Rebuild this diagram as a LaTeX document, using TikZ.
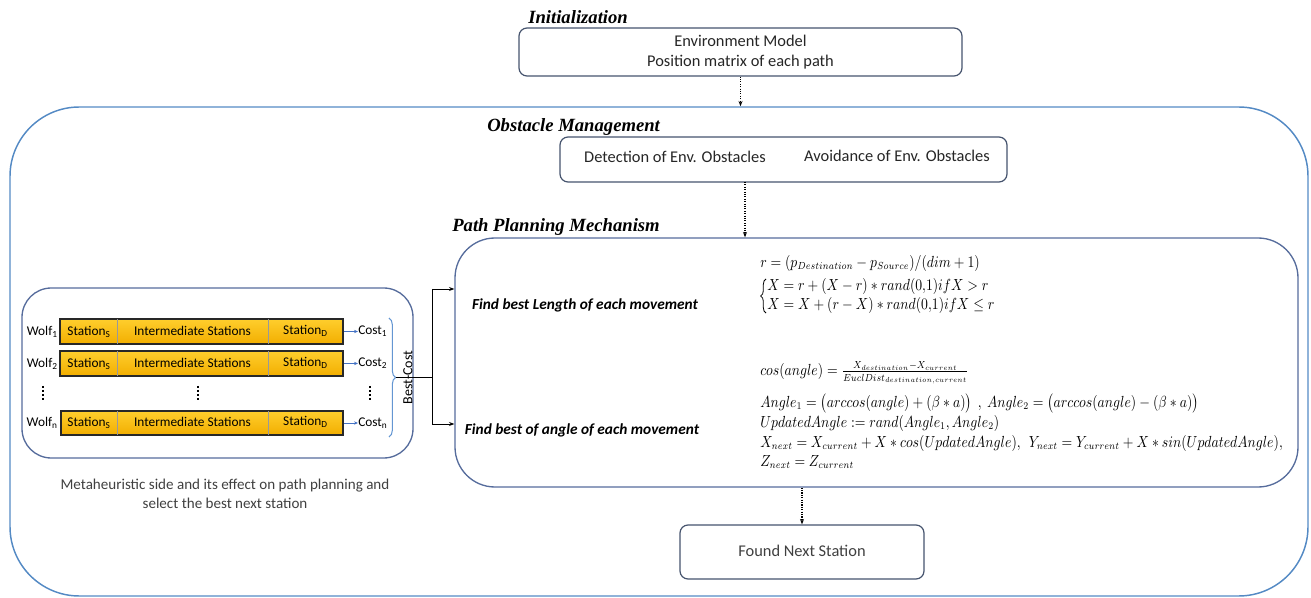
\documentclass[tikz,border=0pt]{standalone}
\usepackage{amsmath}
\usepackage{graphicx}
\usepackage[no-math]{fontspec}
\setmainfont{Carlito}
\newfontfamily\headfont{Liberation Serif}
\usetikzlibrary{fit,arrows.meta,decorations.pathreplacing,shadows}

\definecolor{outerblue}{RGB}{84,138,196}
\definecolor{panelblue}{RGB}{86,108,156}
\definecolor{boxgray}{RGB}{70,84,110}
\definecolor{barlight}{RGB}{255,206,45}
\definecolor{bardark}{RGB}{242,174,0}
\definecolor{bracecol}{RGB}{100,150,210}
\definecolor{arrowblue}{RGB}{68,114,196}
\definecolor{textgray}{RGB}{64,64,64}

% formulas are set slightly condensed and tall
\newcommand{\eqline}[1]{\scalebox{0.94}[1.1]{#1}}

\begin{document}
\begin{tikzpicture}[x=0.75pt,y=-0.75pt,
  outerbox/.style={draw=outerblue,line width=1.1pt,rounded corners=52pt,inner sep=0pt},
  panel/.style={draw=panelblue,line width=1pt,inner sep=0pt},
  plainbox/.style={draw=boxgray,line width=0.9pt,rounded corners=6pt,inner sep=0pt,fill=white},
  heading/.style={font=\headfont\bfseries\itshape\fontsize{14}{16}\selectfont,inner sep=0pt,anchor=west},
  boxtext/.style={font=\fontsize{12.3}{14}\selectfont,inner sep=0pt,text=black!85},
  bar/.style={draw={rgb,255:red,40;green,40;blue,40},line width=1.3pt,top color=barlight,bottom color=bardark,
    inner sep=0pt,drop shadow={shadow xshift=1pt,shadow yshift=-1pt,fill=black!45}},
  bartext/.style={font=\fontsize{10}{11}\selectfont,inner sep=0pt},
  divider/.style={draw=black!40,line width=0.5pt},
  wolftext/.style={font=\fontsize{10}{11}\selectfont,inner sep=0pt},
  costarrow/.style={draw=arrowblue,line width=0.6pt,-{Stealth[length=3pt,width=2.5pt]}},
  flowarrow/.style={densely dotted,line width=0.8pt,-{Stealth[length=4pt,width=3pt]}},
  linkarrow/.style={line width=0.7pt,-{Stealth[length=4pt,width=3pt]}},
  findtext/.style={font=\bfseries\itshape\fontsize{11.5}{13}\selectfont,inner sep=0pt},
  formula/.style={anchor=west,inner sep=0pt,font=\fontsize{10.5}{12}\selectfont,text=black},
  dots/.style={line width=1.1pt,dash pattern=on 1.4pt off 1.6pt}
]
\useasboundingbox (0,0) rectangle (1311,598);

% frame of the whole procedure
\node[outerbox,fit={(10,107)(1308,596)}] (outer) {};

% initialization
\node[heading] (inith) at (528,17) {Initialization};
\node[plainbox,fit={(519,28)(962,76)}] (env) {};
\node[boxtext] (envA) at (740.5,41) {Environment Model};
\node[boxtext] (envB) at (740.5,62) {Position matrix of each path};
\draw[flowarrow] (env.south) -- (env.south |- outer.north);

% obstacle management
\node[heading] (obsh) at (487,127) {Obstacle Management};
\node[plainbox,fit={(560,137)(1007,182)}] (obs) {};
\node[boxtext] (obsA) at (675,157) {Detection of Env. Obstacles};
\node[boxtext] (obsB) at (897,156) {Avoidance of Env. Obstacles};

% path planning
\node[heading] (pph) at (452,227) {Path Planning Mechanism};
\node[panel,rounded corners=30pt,fit={(455,238)(1298,487)}] (pp) {};
\coordinate (obsdrop) at (745,182);
\draw[flowarrow] (obsdrop) -- (obsdrop |- pp.north);

\node[findtext] (findL) at (585,305) {Find best Length of each movement};
\node[findtext] (findA) at (582,430) {Find best of angle of each movement};

% step length
\node[formula] (f1) at (760,263) {\eqline{$r=(p_{Destination}-p_{Source})/(dim+1)$}};
\draw[line width=0.6pt,decorate,decoration={brace,amplitude=4pt}] (766,313) -- (766,279);
\node[formula] (f2a) at (767,286.5) {\eqline{$X=r+(X-r)\ast rand(0{,}1)ifX>r$}};
\node[formula] (f2b) at (767,305) {\eqline{$X=X+(r-X)\ast rand(0{,}1)ifX\le r$}};

% direction of the move
\node[formula] (f3) at (760,373) {\eqline{$cos(angle)=\frac{X_{destination}-X_{current}}{EuclDist_{destination,current}}$}};
\node[formula] (f4) at (760,403) {\eqline{$Angle_1=\bigl(arccos(angle)+(\beta\ast a)\bigr)\ \ ,\ Angle_2=\bigl(arccos(angle)-(\beta\ast a)\bigr)$}};
\node[formula] (f5) at (760,423) {\eqline{$UpdatedAngle:=rand(Angle_1,Angle_2)$}};
\node[formula] (f6) at (760,443) {\eqline{$X_{next}=X_{current}+X\ast cos(UpdatedAngle),\ \ Y_{next}=Y_{current}+X\ast sin(UpdatedAngle),$}};
\node[formula] (f7) at (760,462) {\eqline{$Z_{next}=Z_{current}$}};

% result
\node[plainbox,fit={(680,525)(924,579)}] (found) {};
\node[boxtext,text=textgray] (foundt) at (802,551) {Found Next Station};
\draw[flowarrow] (found.north |- pp.south) -- (found.north);

% metaheuristic side
\node[panel,rounded corners=22pt,fit={(22,288)(413,458)}] (meta) {};

\foreach \r/\top/\bot/\sx/\ex/\sub in {1/319/344/60/343/1, 2/351/376/60/343/2, 3/411/435/61/343/n}{
  \node[bar,fit={(\sx,\top)(\ex,\bot)}] (bar\r) {};
  \draw[divider] (117,\top) -- (117,\bot);
  \draw[divider] (268,\top) -- (268,\bot);
  \node[bartext] (s\r) at (89,{(\top+\bot)/2}) {Station\textsubscript{S}};
  \node[bartext] (m\r) at (192.5,{(\top+\bot)/2-1}) {Intermediate Stations};
  \node[bartext] (d\r) at (305.5,{(\top+\bot)/2-1}) {Station\textsubscript{D}};
  \node[wolftext,anchor=east] (w\r) at (58,{(\top+\bot)/2}) {Wolf\textsubscript{\sub}};
  \node[wolftext,anchor=west] (c\r) at (358,{(\top+\bot)/2}) {Cost\textsubscript{\sub}};
  \draw[costarrow] (bar\r.east) -- (c\r.west);
}
% vertical ellipses between the second and the last wolf
\draw[dots] (43,386) -- (43,401);
\draw[dots] (198,386) -- (198,401);
\draw[dots] (370,386) -- (370,401);

% selection of the best cost
\draw[draw=bracecol,line width=0.8pt,decorate,decoration={brace,amplitude=5pt}] (389,318) -- (389,437);
\coordinate (btip) at (396,377.5);
\node[rotate=90,inner sep=0pt,font=\fontsize{10.5}{12}\selectfont] (bc) at (408,377.5) {Best-Cost};
\coordinate (junc) at (432,377.5);
\coordinate (up) at (432,289);
\coordinate (dn) at (432,424);
\draw[line width=0.7pt] (btip) -- (junc);
\draw[line width=0.7pt] (up) -- (dn);
\draw[linkarrow] (up) -- (up -| pp.west);
\draw[linkarrow] (dn) -- (dn -| pp.west);

\node[align=center,inner sep=0pt,text=textgray,font=\fontsize{11.3}{14.3}\selectfont] (metat) at (225,494)
  {Metaheuristic side and its effect on path planning and\\select the best next station};
\end{tikzpicture}
\end{document}
